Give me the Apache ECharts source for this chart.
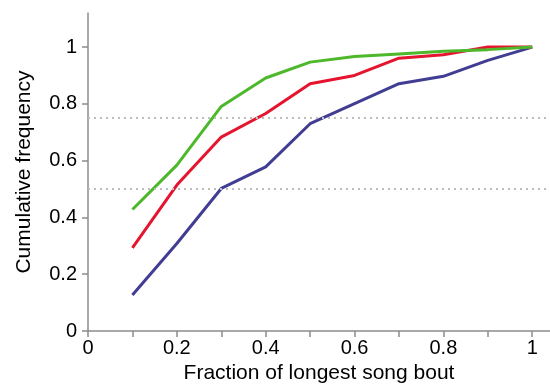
<!DOCTYPE html>
<html><head><meta charset="utf-8">
<script src="https://cdn.jsdelivr.net/npm/echarts@6/dist/echarts.min.js"></script>
<style>html,body{margin:0;padding:0;background:#fff}#c{width:550px;height:390px}</style>
</head><body><div id="c"></div>
<script>
const xValues = [0.1,0.2,0.3,0.4,0.5,0.6,0.7,0.8,0.9,1.0];
const greenValues = [0.428,0.584,0.791,0.891,0.947,0.967,0.976,0.985,0.991,1.0];
const redValues = [0.293,0.514,0.683,0.766,0.871,0.900,0.961,0.973,1.0,1.0];
const blueValues = [0.127,0.308,0.502,0.578,0.730,0.801,0.871,0.897,0.953,1.0];
const xTickValues = [0,0.1,0.2,0.3,0.4,0.5,0.6,0.7,0.8,0.9,1.0];
const xLabelValues = [0,0.2,0.4,0.6,0.8,1.0];
const yTickValues = [0,0.2,0.4,0.6,0.8,1.0];
const refLines = [0.75,0.5];

const pairs = v => xValues.map((x,i)=>[x,v[i]]);
const font = 'Liberation Sans, Arial, Helvetica, sans-serif';
const axisColor = '#8c8c8c';
const chart = echarts.init(document.getElementById('c'), null, {renderer:'canvas'});
const mk = (name, data, color, withRef) => ({
  name, type:'line', data:pairs(data), symbol:'none', smooth:false,
  lineStyle:{color, width:3}, z: 3,
  markLine: withRef ? {silent:true, symbol:'none', label:{show:false},
    lineStyle:{color:'#bdbdbd', type:[2,4], width:2},
    data: refLines.map(v=>({yAxis:v}))} : undefined
});
chart.setOption({
  animation:false,
  grid:{left:88, top:13, right:0, bottom:59, containLabel:false},
  xAxis:{type:'value', min:0, max:1.04,
    name:'Fraction of longest song bout', nameLocation:'middle', nameGap:32,
    nameTextStyle:{fontFamily:font, fontSize:21, color:'#000'},
    axisLine:{show:true, lineStyle:{color:axisColor, width:1.5}},
    axisTick:{show:true, length:6, customValues:xTickValues, lineStyle:{color:axisColor, width:1.5}},
    axisLabel:{customValues:xLabelValues, margin:7, fontFamily:font, fontSize:20, color:'#000',
      formatter:v=>String(+v.toFixed(1))},
    splitLine:{show:false}},
  yAxis:{type:'value', min:0, max:1.12,
    name:'Cumulative frequency', nameLocation:'middle', nameGap:53,
    nameTextStyle:{fontFamily:font, fontSize:21, color:'#000'},
    axisLine:{show:true, lineStyle:{color:axisColor, width:1.5}},
    axisTick:{show:true, length:6, customValues:yTickValues, lineStyle:{color:axisColor, width:1.5}},
    axisLabel:{customValues:yTickValues, margin:11, fontFamily:font, fontSize:20, color:'#000',
      formatter:v=>String(+v.toFixed(1))},
    splitLine:{show:false}},
  series:[
    mk('blue', blueValues, '#413d93', true),
    mk('red', redValues, '#e51530', false),
    mk('green', greenValues, '#4cb82a', false)
  ]
});
</script></body></html>
